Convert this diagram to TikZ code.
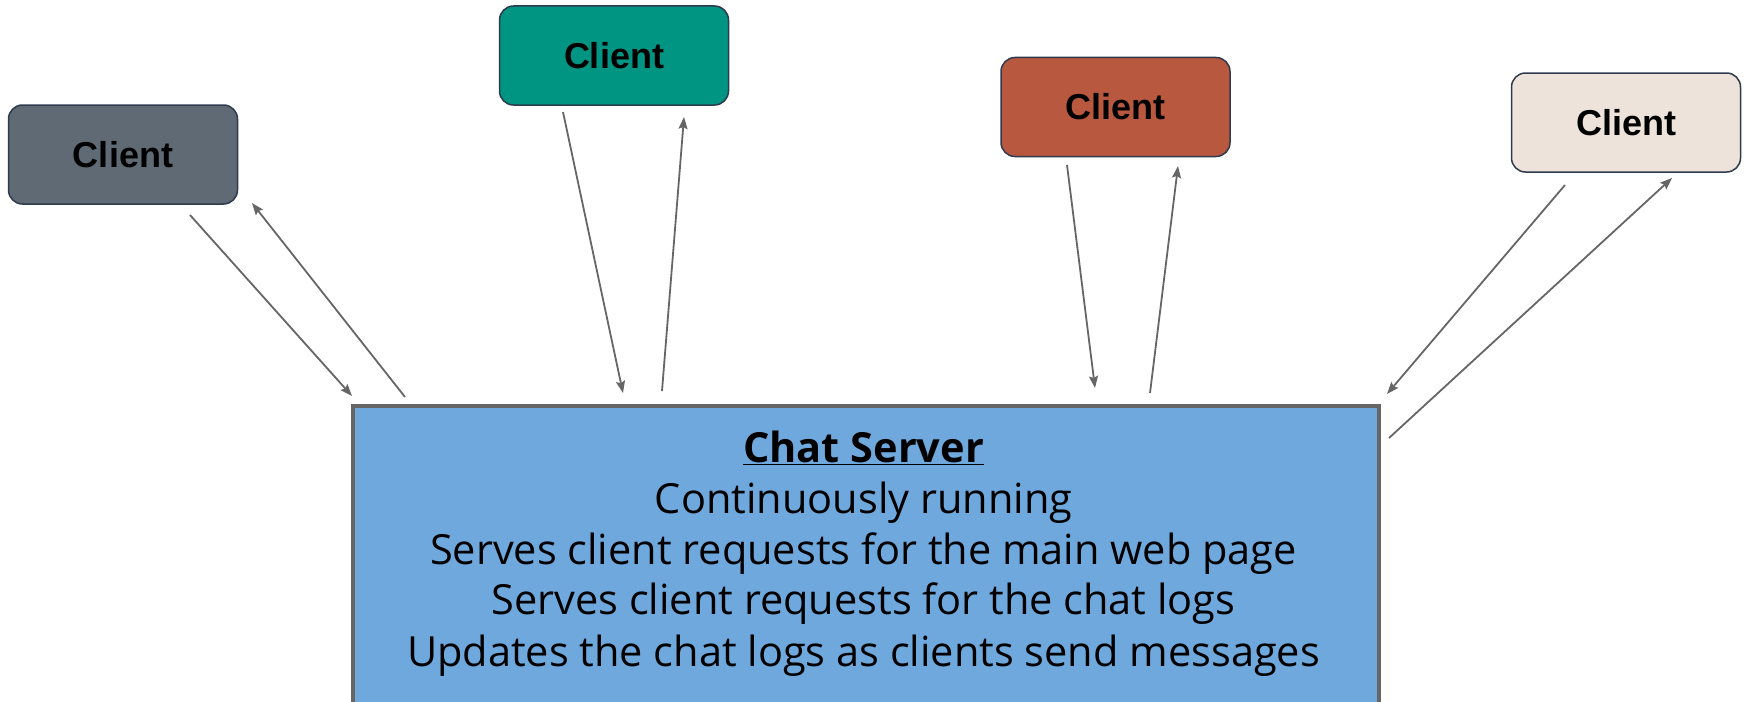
\documentclass[tikz,border=0pt]{standalone}
\usepackage{fontspec}
\setmainfont{Liberation Sans}
\newfontfamily\srvfont{Open Sans}
\usetikzlibrary{arrows.meta}
\definecolor{cgray}{HTML}{5F6A75}
\definecolor{cteal}{HTML}{009483}
\definecolor{crust}{HTML}{B7583F}
\definecolor{ccream}{HTML}{EEE3DB}
\definecolor{cserver}{HTML}{6FA8DC}
\definecolor{cborder}{HTML}{2E3B4E}
\definecolor{carrow}{HTML}{666666}
\tikzset{
  client/.style={draw=cborder, line width=1.5pt, rounded corners=14pt,
    minimum width=229pt, minimum height=99pt, inner sep=0pt,
    font=\fontsize{36}{43}\selectfont\bfseries, text=black},
  server/.style={draw=carrow, fill=cserver, line width=3.5pt, inner sep=0pt},
  srvline/.style={anchor=base, inner sep=0pt, font=\srvfont\fontsize{41.5}{50}\selectfont, text=black},
  conn/.style={draw=carrow, line width=1.8pt, -{Stealth[length=12pt,width=9pt,inset=2pt]}},
}
\begin{document}
\begin{tikzpicture}[x=1pt,y=-1pt]
\useasboundingbox (0,0) rectangle (1744,701);
\fill[white] (0,0) rectangle (1744,701);
% clients
\node[client, fill=cgray]  (c1) at (123,154.5) {Client};
\node[client, fill=cteal]  (c2) at (614,55.5)  {Client};
\node[client, fill=crust]  (c3) at (1115.5,107) {Client};
\node[client, fill=ccream] (c4) at (1626,122.5) {Client};
% server
\node[server, minimum width=1026pt, minimum height=305pt, anchor=north west] (srv) at (351,404) {};
\node[srvline] (t0) at (863.5,462) {\bfseries\underline{Chat Server}};
\node[srvline] (t1) at (863.5,513) {Continuously running};
\node[srvline] (t2) at (863.5,564) {Serves client requests for the main web page};
\node[srvline] (t3) at (863.5,614) {Serves client requests for the chat logs};
\node[srvline] (t4) at (863.5,666) {Updates the chat logs as clients send messages};
% connector end points
\coordinate (a1s) at (190,215);  \coordinate (a1e) at (352,396);
\coordinate (b1s) at (405,397);  \coordinate (b1e) at (252,203);
\coordinate (a2s) at (563,112);  \coordinate (a2e) at (623,393);
\coordinate (b2s) at (662,391);  \coordinate (b2e) at (684,117);
\coordinate (a3s) at (1067,165); \coordinate (a3e) at (1095,388);
\coordinate (b3s) at (1150,393); \coordinate (b3e) at (1178,166);
\coordinate (a4s) at (1565,185); \coordinate (a4e) at (1387,394);
\coordinate (b4s) at (1389,438); \coordinate (b4e) at (1672,178);
\draw[conn] (a1s) -- (a1e);
\draw[conn] (b1s) -- (b1e);
\draw[conn] (a2s) -- (a2e);
\draw[conn] (b2s) -- (b2e);
\draw[conn] (a3s) -- (a3e);
\draw[conn] (b3s) -- (b3e);
\draw[conn] (a4s) -- (a4e);
\draw[conn] (b4s) -- (b4e);
\end{tikzpicture}
\end{document}
